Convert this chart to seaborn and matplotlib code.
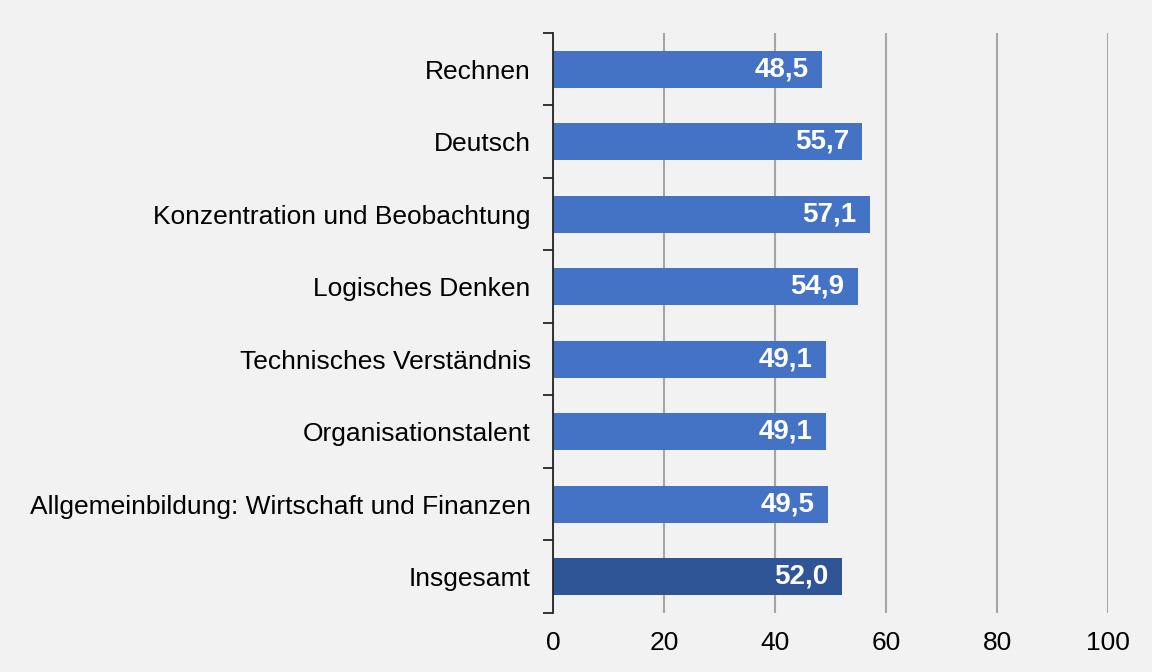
#!/usr/bin/env python3

import numpy as np
import pandas as pd
import seaborn as sns
from matplotlib import pyplot as plt

categories = ["Rechnen", "Deutsch", "Konzentration und Beobachtung", "Logisches Denken",
              "Technisches Verständnis", "Organisationstalent",
              "Allgemeinbildung: Wirtschaft und Finanzen", "Insgesamt"]
values = [48.5, 55.7, 57.1, 54.9, 49.1, 49.1, 49.5, 52.0]
bar_colors = ["#4472c4"] * 7 + ["#2f5597"]
x_ticks = [0, 20, 40, 60, 80, 100]


def plot():
    df = pd.DataFrame({"Kategorie": categories, "Wert": values})

    sns.set_theme(style="white")
    plt.rcParams["font.family"] = ["Liberation Sans", "DejaVu Sans"]

    fig = plt.figure(figsize=(11.52, 6.72), dpi=100, facecolor="#f2f2f2")
    ax = fig.add_axes([0.48, 0.088, 0.482, 0.863])
    ax.set_facecolor("#f2f2f2")

    sns.barplot(df, y="Kategorie", x="Wert", hue="Kategorie", palette=bar_colors,
                order=categories, legend=False, width=0.51, saturation=1,
                linewidth=0, ax=ax)

    for bar, v in zip(ax.patches, values):
        ax.text(bar.get_width() - 2.4, bar.get_y() + bar.get_height() / 2,
                f"{v:.1f}".replace(".", ","), ha="right", va="center",
                color="white", fontsize=20, fontweight="bold")

    ax.set_xlim(0, 100)
    ax.set_ylim(len(categories) - 0.5, -0.5)
    ax.set_xticks(x_ticks)
    ax.set_xticklabels([str(t) for t in x_ticks])
    ax.grid(axis="x", color="#a6a6a6", linewidth=1.5)
    ax.set_axisbelow(True)

    ax.set_yticks(range(len(categories)))
    ax.set_yticks(np.arange(-0.5, len(categories), 1), minor=True)
    ax.tick_params(axis="y", which="major", length=0, pad=16, labelsize=19, labelcolor="black")
    ax.tick_params(axis="y", which="minor", length=7, width=1.3, color="#262626", left=True)
    ax.tick_params(axis="x", length=0, pad=13, labelsize=19, labelcolor="black")

    for s in ["top", "right", "bottom"]:
        ax.spines[s].set_visible(False)
    ax.spines["left"].set_color("#262626")
    ax.spines["left"].set_linewidth(1.3)

    ax.set_xlabel("")
    ax.set_ylabel("")

    plt.savefig("out.png", facecolor=fig.get_facecolor())
    plt.close()


def main():
    plot()


if __name__ == '__main__':
    main()
